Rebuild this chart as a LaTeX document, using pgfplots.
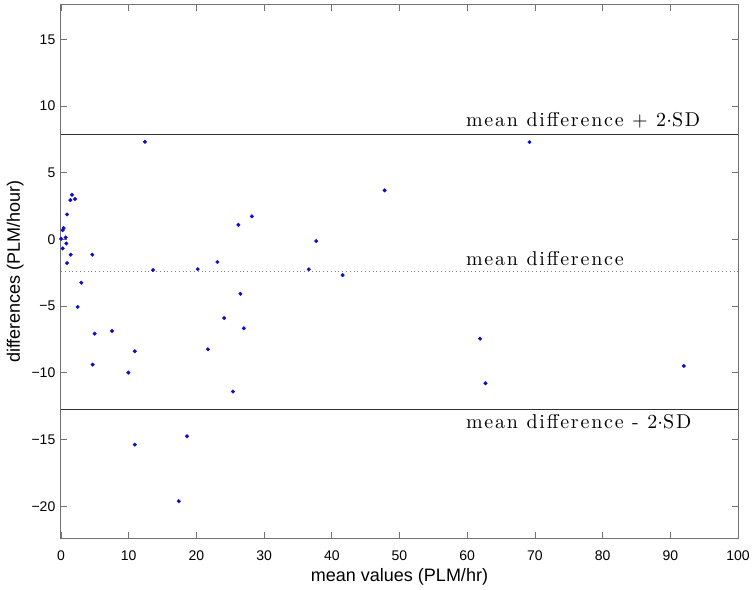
\documentclass[border=0pt]{standalone}
\usepackage{fontspec}
\usepackage{pgfplots}
\pgfplotsset{compat=1.18}
\newfontfamily\sans{Liberation Sans}
\newfontfamily\lmspaced[LetterSpace=9]{lmroman10-regular.otf}
\definecolor{dotblue}{rgb}{0.05,0.05,0.8}
\definecolor{framegray}{gray}{0.45}

\begin{document}
\begin{tikzpicture}
\begin{axis}[
    width=677pt, height=533.6pt, scale only axis,
    xmin=0, xmax=100,
    ymin=-22.4, ymax=17.6,
    xtick={0,10,...,100},
    xticklabels={0,10,20,30,40,50,60,70,80,90,100},
    ytick={-20,-15,...,15},
    yticklabels={−20,−15,−10,−5,0,5,10,15},
    tick align=inside,
    major tick length=6pt,
    axis line style={framegray, line width=1pt},
    tick style={framegray, line width=0.8pt},
    xticklabel style={font=\sans\fontsize{14}{16}\selectfont, anchor=north, inner sep=0pt, yshift=-12.4pt},
    yticklabel style={font=\sans\fontsize{14}{16}\selectfont, anchor=east, inner sep=0pt, xshift=-5.5pt},
    xlabel={mean values (PLM/hr)},
    ylabel={differences (PLM/hour)},
    xlabel style={font=\sans\fontsize{18}{20}\selectfont, at={([yshift=-43.7pt]axis description cs:0.5,0)}, anchor=base},
    ylabel style={font=\sans\fontsize{18}{20}\selectfont, at={([xshift=-41pt]axis description cs:0,0.5)}, anchor=base},
]
% limits of agreement
\addplot[black!80, line width=1pt] coordinates {(0,7.87) (100,7.87)};
\addplot[black!50, line width=0.8pt, dash pattern=on 0.8pt off 3pt] coordinates {(0,-2.43) (100,-2.43)};
\addplot[black!80, line width=1pt] coordinates {(0,-12.73) (100,-12.73)};

\addplot[only marks, mark=*, mark size=1.8pt, color=dotblue] coordinates {
    (1.62,3.35) (1.38,2.95) (2.07,3.03) (0.89,1.88) (0.39,0.85) (0.25,0.7)
    (0.0,0.05) (0.69,0.15) (0.79,-0.3) (0.25,-0.67) (1.43,-1.14) (4.63,-1.14)
    (0.89,-1.77) (13.6,-2.29) (3.0,-3.24) (2.46,-5.06) (4.97,-7.06) (7.53,-6.86)
    (10.9,-8.38) (4.68,-9.38) (9.95,-9.98) (12.4,7.32)
    (20.2,-2.22) (23.1,-1.69) (26.2,1.1) (28.2,1.73) (47.8,3.68) (36.6,-2.24)
    (37.7,-0.12) (41.6,-2.67) (26.5,-4.07) (24.1,-5.89) (27.0,-6.66) (21.7,-8.23)
    (25.4,-11.4) (69.2,7.3) (61.9,-7.44) (62.7,-10.78) (92.0,-9.48)
    (10.9,-15.38) (18.6,-14.75) (17.4,-19.62)
};

\node[anchor=base west, inner sep=0pt, font=\lmspaced\fontsize{20}{24}\selectfont]
    at ([yshift=7.6pt]axis cs:59.8,7.87) {mean difference + 2$\cdot$SD};
\node[anchor=base west, inner sep=0pt, font=\lmspaced\fontsize{20}{24}\selectfont]
    at ([yshift=6.6pt]axis cs:59.8,-2.43) {mean difference};
\node[anchor=base west, inner sep=0pt, font=\lmspaced\fontsize{20}{24}\selectfont]
    at ([yshift=-19pt]axis cs:59.8,-12.73) {mean difference - 2$\cdot$SD};
\end{axis}
\path (current axis.south west) ++(-61pt,-49.7pt) rectangle ++(756pt,588pt);
\end{tikzpicture}
\end{document}
